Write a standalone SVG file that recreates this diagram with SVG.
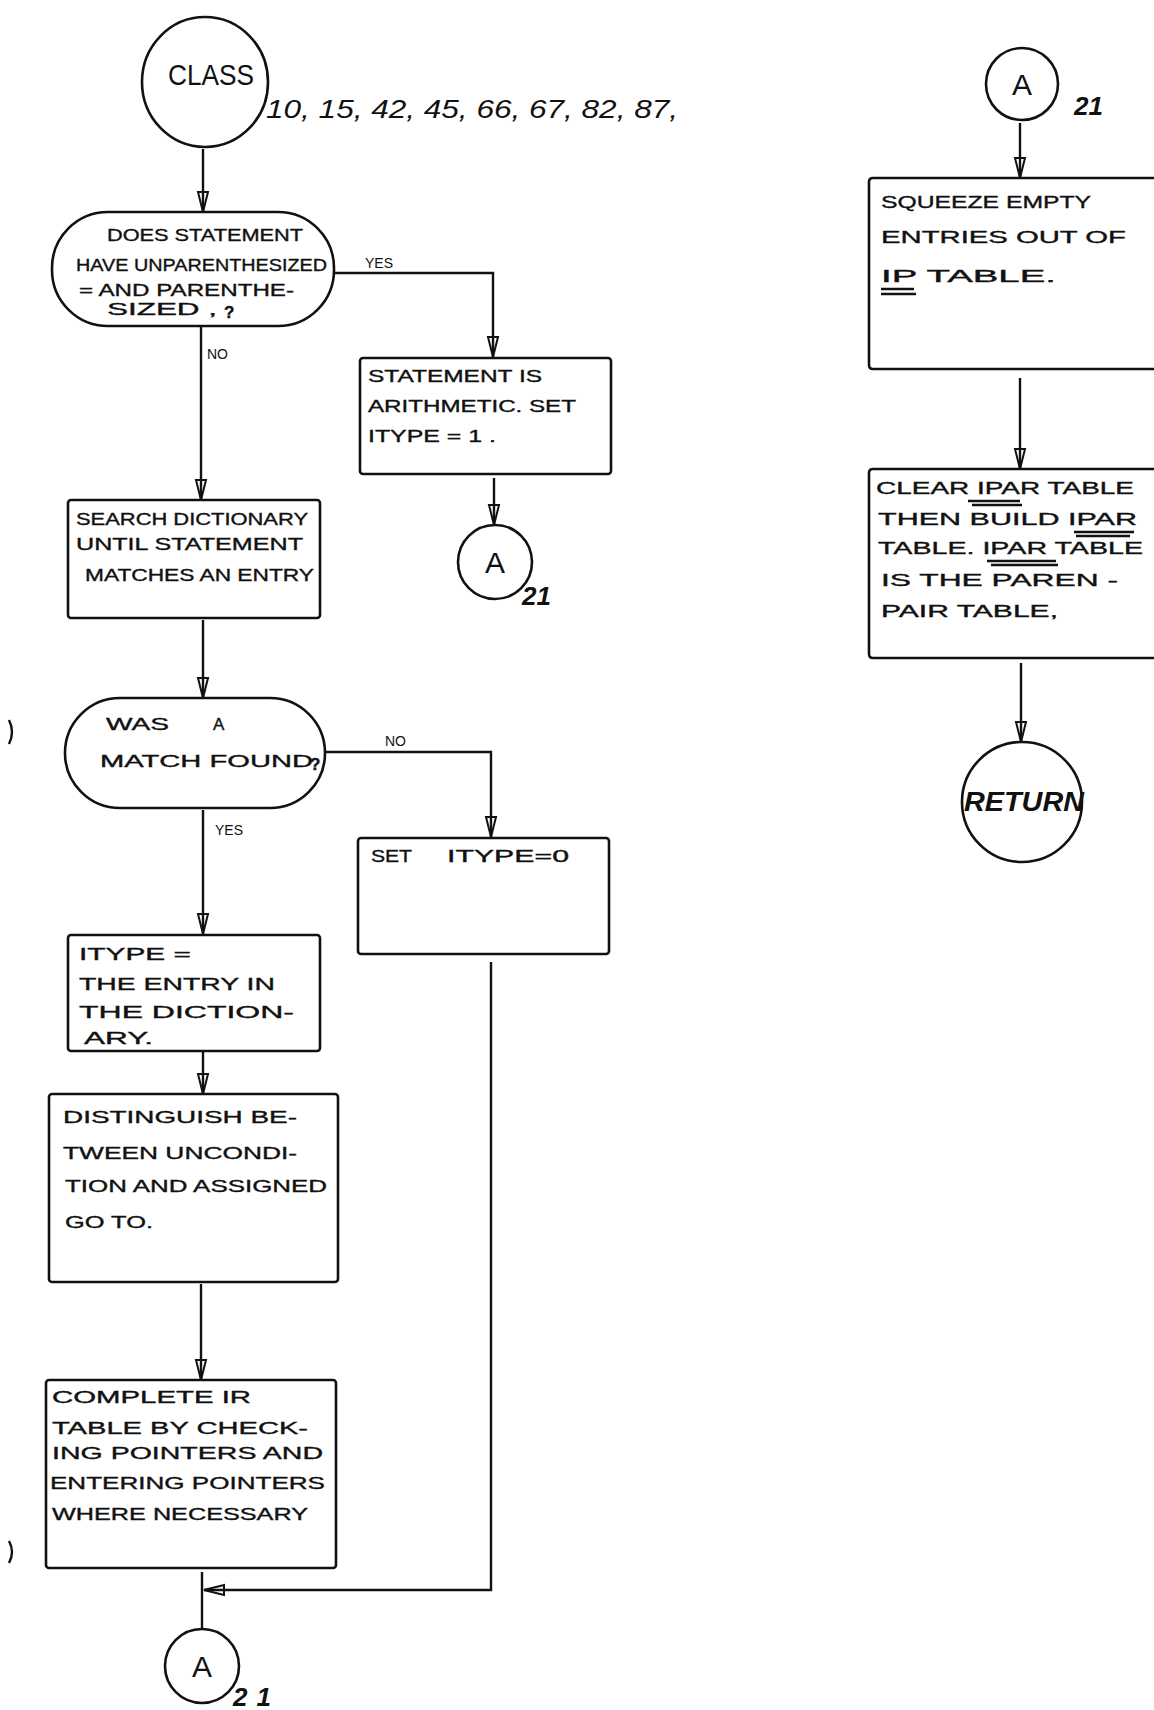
<svg xmlns="http://www.w3.org/2000/svg" width="1154" height="1710" viewBox="0 0 1154 1710">
  <style>
    .shape { fill: none; stroke: #111; stroke-width: 2.6; }
    .line { fill: none; stroke: #111; stroke-width: 2.4; }
    .t { font-family: "Liberation Sans", Arial, sans-serif; font-size: 17px; fill: #111; stroke: #111; stroke-width: 0.35; }
    .lbl { font-family: "Liberation Sans", Arial, sans-serif; font-size: 14px; fill: #111; }
    .conn { font-family: "Liberation Sans", Arial, sans-serif; font-size: 30px; fill: #111; }
    .page { font-family: "Liberation Sans", Arial, sans-serif; font-size: 26px; font-style: italic; fill: #111; }
    .ul { stroke: #111; stroke-width: 2.4; }
  </style>
  <defs>
    <marker id="arrow" markerUnits="userSpaceOnUse" markerWidth="24" markerHeight="14" refX="21" refY="7" orient="auto">
      <path d="M1,2 L21,7 L1,12 Z" fill="none" stroke="#111" stroke-width="2"/>
    </marker>
  </defs>
  <rect width="1154" height="1710" fill="#fff"/>

  <!-- connectors -->
  <g id="connectors">
    <line class="line" x1="203" y1="149" x2="203" y2="212" marker-end="url(#arrow)"/>
    <polyline class="line" points="334,273 493,273 493,357" marker-end="url(#arrow)"/>
    <line class="line" x1="201" y1="326" x2="201" y2="500" marker-end="url(#arrow)"/>
    <line class="line" x1="494" y1="478" x2="494" y2="525" marker-end="url(#arrow)"/>
    <line class="line" x1="203" y1="620" x2="203" y2="698" marker-end="url(#arrow)"/>
    <polyline class="line" points="325,752 491,752 491,837" marker-end="url(#arrow)"/>
    <line class="line" x1="203" y1="810" x2="203" y2="934" marker-end="url(#arrow)"/>
    <line class="line" x1="203" y1="1052" x2="203" y2="1094" marker-end="url(#arrow)"/>
    <line class="line" x1="201" y1="1284" x2="201" y2="1380" marker-end="url(#arrow)"/>
    <line class="line" x1="202" y1="1572" x2="202" y2="1628"/>
    <polyline class="line" points="491,962 491,1590 204,1590" marker-end="url(#arrow)"/>
    <line class="line" x1="1020" y1="123" x2="1020" y2="178" marker-end="url(#arrow)"/>
    <line class="line" x1="1020" y1="378" x2="1020" y2="469" marker-end="url(#arrow)"/>
    <line class="line" x1="1021" y1="663" x2="1021" y2="742" marker-end="url(#arrow)"/>
    <text class="lbl" x="365" y="268">YES</text>
    <text class="lbl" x="207" y="359">NO</text>
    <text class="lbl" x="385" y="746">NO</text>
    <text class="lbl" x="215" y="835">YES</text>
  </g>

  <!-- entry: CLASS -->
  <g id="class-entry">
    <ellipse class="shape" cx="205" cy="82" rx="63" ry="65"/>
    <text class="conn" x="211" y="85" font-size="27" text-anchor="middle" textLength="86" lengthAdjust="spacingAndGlyphs">CLASS</text>
    <text class="page" x="266" y="118" font-size="36" textLength="412" lengthAdjust="spacingAndGlyphs">10, 15, 42, 45, 66, 67, 82, 87,</text>
  </g>

  <!-- decision: unparenthesized = and parenthesized -->
  <g id="decision-arith">
    <rect class="shape" x="52" y="212" width="282" height="114" rx="56" ry="56"/>
    <text class="t" x="107" y="241" textLength="196" lengthAdjust="spacingAndGlyphs">DOES STATEMENT</text>
    <text class="t" x="76" y="271" textLength="251" lengthAdjust="spacingAndGlyphs">HAVE UNPARENTHESIZED</text>
    <text class="t" x="79" y="296" textLength="215" lengthAdjust="spacingAndGlyphs">= AND PARENTHE-</text>
    <text class="t" x="107" y="315" textLength="110" lengthAdjust="spacingAndGlyphs">SIZED  ,</text>
    <text class="t" x="224" y="318" font-size="24" font-weight="bold">?</text>
  </g>

  <!-- statement is arithmetic -->
  <g id="set-arith">
    <rect class="shape" x="360" y="358" width="251" height="116" rx="3"/>
    <text class="t" x="368" y="382" textLength="174" lengthAdjust="spacingAndGlyphs">STATEMENT  IS</text>
    <text class="t" x="368" y="412" textLength="208" lengthAdjust="spacingAndGlyphs">ARITHMETIC.  SET</text>
    <text class="t" x="368" y="442" textLength="128" lengthAdjust="spacingAndGlyphs">ITYPE = 1 .</text>
  </g>

  <!-- connector A (after arithmetic) -->
  <g id="conn-a1">
    <circle class="shape" cx="495" cy="562" r="37"/>
    <text class="conn" x="495" y="573" text-anchor="middle">A</text>
    <text class="page" x="522" y="605" font-size="26" font-weight="bold">21</text>
  </g>

  <!-- search dictionary -->
  <g id="search-dict">
    <rect class="shape" x="68" y="500" width="252" height="118" rx="3"/>
    <text class="t" x="76" y="525" textLength="232" lengthAdjust="spacingAndGlyphs">SEARCH  DICTIONARY</text>
    <text class="t" x="76" y="550" textLength="227" lengthAdjust="spacingAndGlyphs">UNTIL  STATEMENT</text>
    <text class="t" x="85" y="581" textLength="229" lengthAdjust="spacingAndGlyphs">MATCHES  AN ENTRY</text>
  </g>

  <!-- decision: match found -->
  <g id="decision-match">
    <rect class="shape" x="65" y="698" width="260" height="110" rx="55" ry="55"/>
    <text class="t" x="106" y="730" textLength="63" lengthAdjust="spacingAndGlyphs">WAS</text>
    <text class="t" x="213" y="730">A</text>
    <text class="t" x="100" y="767" textLength="213" lengthAdjust="spacingAndGlyphs">MATCH  FOUND</text>
    <text class="t" x="310" y="770" font-size="24" font-weight="bold">?</text>
  </g>

  <!-- set ITYPE = 0 -->
  <g id="set-zero">
    <rect class="shape" x="358" y="838" width="251" height="116" rx="3"/>
    <text class="t" x="371" y="862" textLength="41" lengthAdjust="spacingAndGlyphs">SET</text>
    <text class="t" x="447" y="862" textLength="122" lengthAdjust="spacingAndGlyphs">ITYPE=0</text>
  </g>

  <!-- ITYPE = dictionary entry -->
  <g id="set-entry">
    <rect class="shape" x="68" y="935" width="252" height="116" rx="3"/>
    <text class="t" x="79" y="960" textLength="112" lengthAdjust="spacingAndGlyphs">ITYPE =</text>
    <text class="t" x="79" y="990" textLength="196" lengthAdjust="spacingAndGlyphs">THE  ENTRY  IN</text>
    <text class="t" x="79" y="1018" textLength="215" lengthAdjust="spacingAndGlyphs">THE  DICTION-</text>
    <text class="t" x="84" y="1044" textLength="69" lengthAdjust="spacingAndGlyphs">ARY.</text>
  </g>

  <!-- distinguish go to -->
  <g id="distinguish">
    <rect class="shape" x="49" y="1094" width="289" height="188" rx="3"/>
    <text class="t" x="63" y="1123" textLength="234" lengthAdjust="spacingAndGlyphs">DISTINGUISH  BE-</text>
    <text class="t" x="63" y="1159" textLength="234" lengthAdjust="spacingAndGlyphs">TWEEN  UNCONDI-</text>
    <text class="t" x="65" y="1192" textLength="262" lengthAdjust="spacingAndGlyphs">TION  AND  ASSIGNED</text>
    <text class="t" x="65" y="1228" textLength="88" lengthAdjust="spacingAndGlyphs">GO  TO.</text>
  </g>

  <!-- complete IR table -->
  <g id="complete-ir">
    <rect class="shape" x="46" y="1380" width="290" height="188" rx="3"/>
    <text class="t" x="52" y="1403" textLength="199" lengthAdjust="spacingAndGlyphs">COMPLETE   IR</text>
    <text class="t" x="52" y="1434" textLength="256" lengthAdjust="spacingAndGlyphs">TABLE BY  CHECK-</text>
    <text class="t" x="52" y="1459" textLength="271" lengthAdjust="spacingAndGlyphs">ING   POINTERS AND</text>
    <text class="t" x="50" y="1489" textLength="275" lengthAdjust="spacingAndGlyphs">ENTERING  POINTERS</text>
    <text class="t" x="52" y="1520" textLength="256" lengthAdjust="spacingAndGlyphs">WHERE  NECESSARY</text>
  </g>

  <!-- connector A (exit) -->
  <g id="conn-a2">
    <circle class="shape" cx="202" cy="1666" r="37"/>
    <text class="conn" x="202" y="1677" text-anchor="middle">A</text>
    <text class="page" x="233" y="1706" font-size="28" font-weight="bold" textLength="38" lengthAdjust="spacing">21</text>
  </g>

  <!-- connector A (entry, right column) -->
  <g id="conn-a3">
    <circle class="shape" cx="1022" cy="84" r="36"/>
    <text class="conn" x="1022" y="95" text-anchor="middle">A</text>
    <text class="page" x="1074" y="115" font-size="26" font-weight="bold">21</text>
  </g>

  <!-- squeeze IP table -->
  <g id="squeeze">
    <path class="shape" d="M1160,178 L873,178 Q869,178 869,182 L869,365 Q869,369 873,369 L1160,369"/>
    <text class="t" x="881" y="208" textLength="210" lengthAdjust="spacingAndGlyphs">SQUEEZE  EMPTY</text>
    <text class="t" x="881" y="243" textLength="245" lengthAdjust="spacingAndGlyphs">ENTRIES  OUT  OF</text>
    <text class="t" x="881" y="282" textLength="175" lengthAdjust="spacingAndGlyphs">IP   TABLE.</text>
    <line class="ul" x1="881" y1="289" x2="914" y2="289"/>
    <line class="ul" x1="881" y1="294" x2="916" y2="294"/>
  </g>

  <!-- clear / build IPAR table -->
  <g id="build-ipar">
    <path class="shape" d="M1160,469 L873,469 Q869,469 869,473 L869,654 Q869,658 873,658 L1160,658"/>
    <text class="t" x="876" y="494" textLength="258" lengthAdjust="spacingAndGlyphs">CLEAR  IPAR  TABLE</text>
    <line class="ul" x1="968" y1="501" x2="1020" y2="501"/>
    <line class="ul" x1="972" y1="505" x2="1022" y2="505"/>
    <text class="t" x="878" y="525" textLength="259" lengthAdjust="spacingAndGlyphs">THEN  BUILD  IPAR</text>
    <line class="ul" x1="1074" y1="532" x2="1134" y2="532"/>
    <line class="ul" x1="1076" y1="536" x2="1130" y2="536"/>
    <text class="t" x="878" y="554" textLength="265" lengthAdjust="spacingAndGlyphs">TABLE.  IPAR  TABLE</text>
    <line class="ul" x1="987" y1="561" x2="1056" y2="561"/>
    <line class="ul" x1="991" y1="565" x2="1058" y2="565"/>
    <text class="t" x="881" y="586" textLength="237" lengthAdjust="spacingAndGlyphs">IS  THE  PAREN -</text>
    <text class="t" x="881" y="617" textLength="177" lengthAdjust="spacingAndGlyphs">PAIR  TABLE,</text>
  </g>

  <!-- return -->
  <g id="return">
    <circle class="shape" cx="1022" cy="802" r="60"/>
    <text x="964" y="811" font-family="Liberation Sans, Arial, sans-serif" font-size="27" font-weight="bold" font-style="italic" fill="#111" textLength="120" lengthAdjust="spacingAndGlyphs">RETURN</text>
  </g>

  <!-- margin marks -->
  <g id="margin-marks">
    <path class="line" d="M9,720 Q15,732 9,744" stroke-width="1.5"/>
    <path class="line" d="M9,1541 Q15,1552 9,1563" stroke-width="1.5"/>
  </g>
</svg>
